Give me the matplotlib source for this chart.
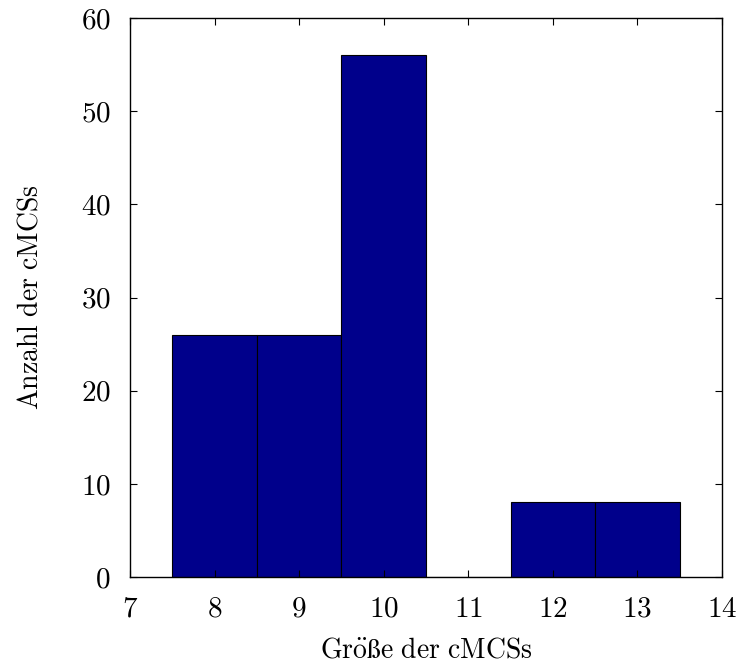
import matplotlib
matplotlib.use("Agg")
import matplotlib.pyplot as plt

# histogram of cMCS sizes
groesse = [8, 9, 10, 11, 12, 13]
anzahl = [26, 26, 56, 0, 8, 8]

plt.rcParams['mathtext.fontset'] = 'cm'
plt.rcParams['font.family'] = ['cmr10', 'DejaVu Serif']
plt.rcParams['axes.formatter.use_mathtext'] = True

fig = plt.figure(figsize=(7.38, 6.71), dpi=100)
ax = fig.add_axes([130/738, 1 - 577/671, (722-130)/738, (577-18)/671])

ax.bar(groesse, anzahl, width=1.0, color='#00008b', edgecolor='black', linewidth=0.8)

ax.set_xlim(7, 14)
ax.set_ylim(0, 60)
ax.set_xticks(range(7, 15))
ax.set_yticks(range(0, 61, 10))
ax.tick_params(direction='in', top=True, right=True, length=5, width=0.8,
               labelsize=21, pad=14)
for s in ax.spines.values():
    s.set_linewidth(1.0)

ax.set_xlabel(r'$\mathrm{Gr\ddot{o}\ss e\ der\ cMCSs}$', fontsize=20, labelpad=10)
ax.set_ylabel(r'$\mathrm{Anzahl\ der\ cMCSs}$', fontsize=20, labelpad=27)

fig.savefig("out.png", dpi=100)
